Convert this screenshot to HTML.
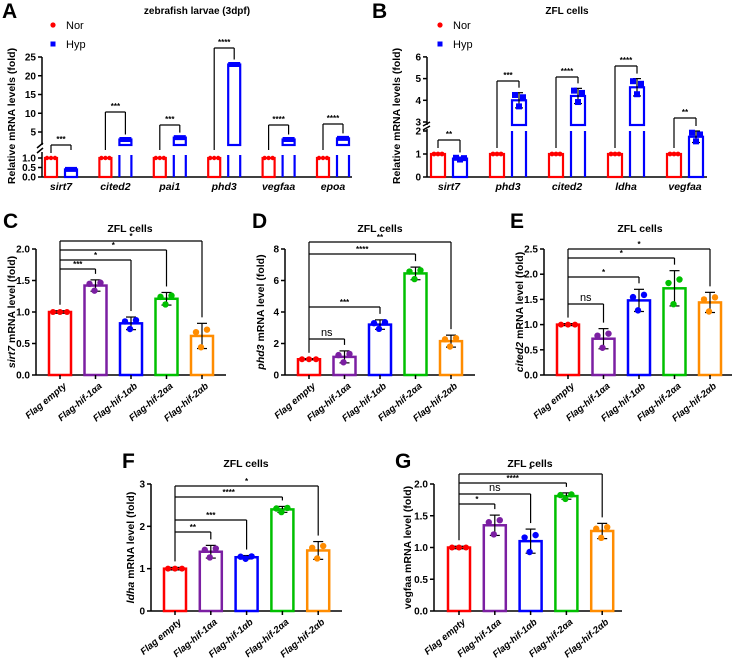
<!DOCTYPE html><html><head><meta charset="utf-8"><style>body{margin:0;background:#fff}svg{display:block;font-family:"Liberation Sans",Arial,sans-serif}</style></head><body>
<svg id="s" width="735" height="664" viewBox="0 0 735 664" xmlns="http://www.w3.org/2000/svg"></svg>
<script>
var o='';
function L(x1,y1,x2,y2,c,w){o+='<line x1="'+x1+'" y1="'+y1+'" x2="'+x2+'" y2="'+y2+'" stroke="'+(c||'#000')+'" stroke-width="'+(w||1.5)+'"/>';}
function T(x,y,t,a,s,extra,wt){o+='<text x="'+x+'" y="'+y+'" font-size="'+(s||10)+'" font-weight="'+(wt||'bold')+'" text-anchor="'+(a||'start')+'" '+(extra||'')+'>'+t+'</text>';}
function C(x,y,c,r){o+='<circle cx="'+x+'" cy="'+y+'" r="'+(r||3)+'" fill="'+c+'"/>';}
function R(x,y,w,h,c,sw){o+='<rect x="'+x+'" y="'+y+'" width="'+w+'" height="'+h+'" fill="none" stroke="'+c+'" stroke-width="'+sw+'"/>';}
// ---------- Panel A ----------
T(2,18,'A','start',21);T(197,14,'zebrafish larvae (3dpf)','middle',10);
C(53,25,'#f00',2.6);T(66,29,'Nor','start',11,'','normal');
o+='<rect x="50.5" y="41.5" width="5" height="5" fill="#00f"/>';T(66,48,'Hyp','start',11,'','normal');
o+='<text transform="translate(15,116) rotate(-90)" font-size="10.5" font-weight="bold" text-anchor="middle">Relative mRNA levels (fold)</text>';
function yAt(v){return 132-(v-5)*3.75;} function yAb(v){return 177-v*19;}
L(42,57,42,145);L(42,152,42,177);L(42,177,352,177);
[25,20,15,10,5].forEach(function(v){L(38,yAt(v),42,yAt(v));T(36,yAt(v)+3.5,v,'end');});
[['1.0',1],['0.5',.5],['0.0',0]].forEach(function(a){L(38,yAb(a[1]),42,yAb(a[1]));T(36,yAb(a[1])+3.5,a[0],'end');});
L(37,148,43,143);L(37,153,43,148);
var ga=['sirt7','cited2','pai1','phd3','vegfaa','epoa'],hv=[0.4,3,3.5,23,3,3.3],by=[145,112,125,48,125,124],st=['***','***','***','****','****','****'];
ga.forEach(function(g,i){var nx=45+i*54.4,hx=nx+20;
 R(nx,yAb(1),12,yAb(0)-yAb(1),'#f00',2.2);C(nx+2,yAb(1),'#f00',2.2);C(nx+6,yAb(1),'#f00',2.2);C(nx+10,yAb(1),'#f00',2.2);
 if(hv[i]<1){R(hx,yAb(hv[i]),12,yAb(0)-yAb(hv[i]),'#00f',2.2);o+='<rect x="'+hx+'" y="'+(yAb(hv[i])-2.5)+'" width="12" height="5" fill="#00f"/>';}
 else{L(hx,155,hx,177,'#00f',2.2);L(hx+12,155,hx+12,177,'#00f',2.2);var t=yAt(hv[i]);R(hx,t,12,145-t,'#00f',2.2);o+='<rect x="'+hx+'" y="'+(t-2.5)+'" width="12" height="5" fill="#00f"/>';}
 L(nx+6,by[i],hx+6,by[i],'#000',1.2);L(nx+6,by[i],nx+6,i==0?153:150,'#000',1.2);L(hx+6,by[i],hx+6,hv[i]<1?150:yAt(hv[i])-5,'#000',1.2);
 T((nx+hx)/2+6,by[i]-3,st[i],'middle',8);
 T(nx+16,190,g,'middle',10.5,'font-style="italic"');});
// ---------- Panel B ----------
T(372,18,'B','start',21);T(567,14,'ZFL cells','middle',10);
C(440,25,'#f00',2.6);T(453,29,'Nor','start',11,'','normal');
o+='<rect x="437.5" y="41.5" width="5" height="5" fill="#00f"/>';T(453,48,'Hyp','start',11,'','normal');
o+='<text transform="translate(400,116) rotate(-90)" font-size="10.5" font-weight="bold" text-anchor="middle">Relative mRNA levels (fold)</text>';
function bT(v){return 122-(v-3)*21.7;} function bB(v){return 177-v*23;}
L(427,57,427,125);L(427,129,427,177);L(427,177,707,177);
[6,5,4,3].forEach(function(v){L(423,bT(v),427,bT(v));T(421,bT(v)+3.5,v,'end');});
[2,1,0].forEach(function(v){L(423,bB(v),427,bB(v));T(421,bB(v)+3.5,v,'end');});
L(423,126,430,122);L(423,130,430,126);
var gb=['sirt7','phd3','cited2','ldha','vegfaa'],bv=[0.8,4.0,4.2,4.6,1.75],bby=[140,81,77,66,118],bst=['**','***','****','****','**'],be=[0.05,0.35,0.35,0.4,0.25];
gb.forEach(function(g,i){var nx=431+i*59,hx=nx+22;
 R(nx,bB(1),14,bB(0)-bB(1),'#f00',2.2);[3,7,11].forEach(function(d){C(nx+d,bB(1),'#f00',2.4);});
 var t=bv[i]>3?bT(bv[i]):bB(bv[i]);
 if(bv[i]>3){L(hx,131,hx,177,'#00f',2.2);L(hx+14,131,hx+14,177,'#00f',2.2);R(hx,t,14,125-t,'#00f',2.2);}
 else R(hx,t,14,177-t,'#00f',2.2);
 var f=bv[i]>3?bT:bB;L(hx+7,f(bv[i]+be[i]),hx+7,f(bv[i]-be[i]),'#000',1.2);L(hx+3,f(bv[i]+be[i]),hx+11,f(bv[i]+be[i]),'#000',1.2);L(hx+3,f(bv[i]-be[i]),hx+11,f(bv[i]-be[i]),'#000',1.2);
 [[-4,bv[i]+be[i]*.7],[0,bv[i]-be[i]*.8],[4,bv[i]+be[i]*.4]].forEach(function(p){o+='<rect x="'+(hx+7+p[0]-3)+'" y="'+(f(p[1])-3)+'" width="6" height="6" fill="#00f"/>';});
 L(nx+7,bby[i],hx+7,bby[i],'#000',1.2);L(nx+7,bby[i],nx+7,148,'#000',1.2);L(hx+7,bby[i],hx+7,f(bv[i]+be[i])-5,'#000',1.2);
 T((nx+hx)/2+7,bby[i]-3,bst[i],'middle',8);
 T(nx+18,190,g,'middle',10.5,'font-style="italic"');});
// ---------- C-G ----------
var cols=['#f00','#7b1fa2','#00f','#00c000','#ff8c00'],cats=['Flag empty','Flag-hif-1αa','Flag-hif-1αb','Flag-hif-2αa','Flag-hif-2αb'];
function P(p){var ax=p.ax,y0=p.y0,yt=p.yt,mx=p.max,s=(y0-yt)/mx;function Y(v){return y0-v*s;}
 T(p.lx,p.ly,p.letter,'start',21);T(p.tx,p.ty,'ZFL cells','middle',10.5);
 L(ax,yt,ax,y0);L(ax,y0,p.xe,y0);
 p.ticks.forEach(function(t){L(ax-4,Y(t[1]),ax,Y(t[1]));T(ax-6,Y(t[1])+3.5,t[0],'end');});
 o+='<text transform="translate('+p.ylx+','+(yt+y0)/2+') rotate(-90)" font-size="10.5" font-weight="bold" text-anchor="middle">'+p.ylab+'</text>';
 for(var i=0;i<5;i++){var c=ax+p.b0+i*p.sp,v=p.v[i],e=p.e[i];
  R(c-11,Y(v),22,y0-Y(v),cols[i],2.5);L(c,Y(v+e),c,Y(v-e),'#000',1.2);L(c-5,Y(v+e),c+5,Y(v+e),'#000',1.2);L(c-5,Y(v-e),c+5,Y(v-e),'#000',1.2);
  if(i==0){[-7,0,7].forEach(function(d){C(c+d,Y(v),cols[0],3);});}
  else{C(c-6,Y(v+e*.3),cols[i],3.2);C(c+5,Y(v+e*.5),cols[i],3.2);C(c-1,Y(v-e*.9),cols[i],3.2);}
  L(c,y0,c,y0+4);
  o+='<text transform="translate('+(c+7)+','+(y0+12)+') rotate(-40)" font-size="9.5" font-weight="bold" font-style="italic" text-anchor="end">'+cats[i]+'</text>';}
 var bx=ax+p.b0;
 p.br.forEach(function(b){var ex=ax+p.b0+b[0]*p.sp;L(bx,b[1],ex,b[1],'#000',1.2);L(ex,b[1],ex,Y(p.v[b[0]]+p.e[b[0]])-6,'#000',1.2);
  if(b[2]=='ns')T((bx+ex)/2,b[1]-3,'ns','middle',11,'','normal');else T((bx+ex)/2,b[1]-2,b[2],'middle',8);});
 L(bx,p.br[0][1],bx,Y(1.0+p.e[0])-6,'#000',1.2);}
var t2=[['2.0',2],['1.5',1.5],['1.0',1],['0.5',.5],['0.0',0]];
P({letter:'C',lx:3,ly:228,tx:130,ty:232,ax:36,y0:375,yt:249,max:2,xe:226,b0:24,sp:35.5,ticks:t2,ylx:15,ylab:'<tspan font-style="italic">sirt7</tspan> mRNA level (fold)',
 v:[1,1.42,0.82,1.21,0.62],e:[0.02,0.09,0.1,0.1,0.2],br:[[4,241,'*'],[3,250,'*'],[2,260,'*'],[1,269,'***']]});
P({letter:'D',lx:252,ly:228,tx:380,ty:232,ax:285,y0:375,yt:249,max:8,xe:475,b0:24,sp:35.5,ticks:[['8',8],['6',6],['4',4],['2',2],['0',0]],ylx:264,ylab:'<tspan font-style="italic">phd3</tspan> mRNA level (fold)',
 v:[1,1.15,3.2,6.45,2.15],e:[0.03,0.38,0.3,0.4,0.38],br:[[4,242,'**'],[3,254,'****'],[2,307,'***'],[1,339,'ns']]});
P({letter:'E',lx:510,ly:228,tx:640,ty:232,ax:544,y0:375,yt:249,max:2.5,xe:732,b0:24,sp:35.5,ticks:[['2.5',2.5],['2.0',2],['1.5',1.5],['1.0',1],['0.5',.5],['0.0',0]],ylx:523,ylab:'<tspan font-style="italic">cited2</tspan> mRNA level (fold)',
 v:[1,0.72,1.48,1.72,1.44],e:[0.02,0.2,0.22,0.35,0.2],br:[[4,249,'*'],[3,258,'*'],[2,277,'*'],[1,304,'ns']]});
P({letter:'F',lx:122,ly:468,tx:246,ty:467,ax:151,y0:611,yt:484,max:3,xe:342,b0:24,sp:35.8,ticks:[['3',3],['2',2],['1',1],['0',0]],ylx:134,ylab:'<tspan font-style="italic">ldha</tspan> mRNA level (fold)',
 v:[1,1.4,1.27,2.4,1.43],e:[0.03,0.15,0.04,0.07,0.21],br:[[4,486,'*'],[3,497,'****'],[2,520,'***'],[1,532,'**']]});
P({letter:'G',lx:395,ly:468,tx:530,ty:467,ax:434,y0:611,yt:484,max:2,xe:622,b0:25,sp:35.8,ticks:t2,ylx:411,ylab:'vegfaa mRNA level (fold)',
 v:[1,1.35,1.1,1.81,1.26],e:[0.02,0.16,0.19,0.05,0.12],br:[[4,474,'*'],[3,483,'****'],[2,494,'ns'],[1,504,'*']]});
document.getElementById('s').innerHTML=o;
</script></body></html>
